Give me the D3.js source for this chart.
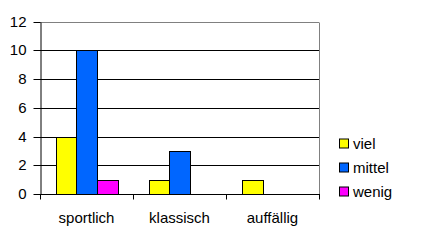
<!DOCTYPE html>
<html>
<head>
<meta charset="utf-8">
<script src="https://cdn.jsdelivr.net/npm/d3@7"></script>
<style>
  body { margin: 0; background: #fff; }
  svg { display: block; font-family: Arial, "Liberation Sans", sans-serif; }
</style>
</head>
<body>
<svg id="chart" width="423" height="240"></svg>
<script>
// balkendiagramm: drei kategorien, drei serien, legende rechts
var kategorien = ["sportlich", "klassisch", "auffällig"];
var serien = ["viel", "mittel", "wenig"];
var farben = ["#ffff00", "#0066ff", "#ff00ff"];
var viel = [4, 1, 1];
var mittel = [10, 3, 0];
var wenig = [1, 0, 0];
var yTicks = [0, 2, 4, 6, 8, 10, 12];

var werte = [viel, mittel, wenig];
var FS = 15;

var svg = d3.select("#chart");
var links = 40, rechts = 319, oben = 21.5, unten = 194;

var x = d3.scaleBand().domain(kategorien).range([links, rechts]).paddingInner(0).paddingOuter(0);
var y = d3.scaleLinear().domain([0, 12]).range([unten, oben]);
// excel: gap 150% -> 4.5 balkenbreiten pro kategorie
var bw = x.bandwidth() / 4.5;

// gitterlinien
svg.append("g").selectAll("line")
  .data(yTicks.filter(function (t) { return t > 0; }))
  .enter().append("line")
  .attr("x1", links).attr("x2", rechts)
  .attr("y1", function (d) { return Math.round(y(d)) + 0.5; })
  .attr("y2", function (d) { return Math.round(y(d)) + 0.5; })
  .attr("stroke", function (d) { return d === 12 ? "#808080" : "#000"; });

// rechter rand grau
svg.append("line")
  .attr("x1", rechts + 0.5).attr("x2", rechts + 0.5)
  .attr("y1", Math.round(oben) + 0.5).attr("y2", Math.round(unten) + 0.5)
  .attr("stroke", "#808080");

// balken
werte.forEach(function (reihe, i) {
  svg.append("g").selectAll("rect")
    .data(reihe.map(function (v, j) { return { k: kategorien[j], v: v }; }).filter(function (d) { return d.v > 0; }))
    .enter().append("rect")
    .attr("x", function (d) { return Math.round(x(d.k) + bw * (0.75 + i)) + 0.5; })
    .attr("width", Math.round(bw))
    .attr("y", function (d) { return Math.round(y(d.v)) + 0.5; })
    .attr("height", function (d) { return Math.round(y(0)) - Math.round(y(d.v)); })
    .attr("fill", farben[i])
    .attr("stroke", "#000");
});

// y achse
var yAchse = svg.append("g").attr("transform", "translate(" + (links + 0.5) + ",0.5)")
  .call(d3.axisLeft(y).tickValues(yTicks).tickSize(7).tickSizeOuter(0).tickPadding(7));
yAchse.selectAll("text").attr("font-size", FS).attr("font-family", "Arial, 'Liberation Sans', sans-serif").attr("fill", "#000");
yAchse.selectAll("line, path").attr("stroke", "#000");
yAchse.selectAll(".tick").attr("transform", function (d) { return "translate(0," + Math.round(y(d)) + ")"; });

// x achse
var xAchse = svg.append("g").attr("transform", "translate(0," + (Math.round(unten) + 0.5) + ")");
xAchse.append("line").attr("x1", links).attr("x2", rechts + 1).attr("stroke", "#000");
var grenzen = kategorien.map(function (k) { return x(k); }).concat([rechts]);
xAchse.selectAll("line.tk").data(grenzen).enter().append("line")
  .attr("class", "tk")
  .attr("x1", function (d) { return Math.round(d) + 0.5; })
  .attr("x2", function (d) { return Math.round(d) + 0.5; })
  .attr("y1", 0).attr("y2", 5)
  .attr("stroke", "#000");
xAchse.selectAll("text").data(kategorien).enter().append("text")
  .attr("x", function (d) { return x(d) + x.bandwidth() / 2; })
  .attr("y", 28)
  .attr("text-anchor", "middle")
  .attr("font-size", FS)
  .text(function (d) { return d; });

// legende
var leg = svg.append("g").selectAll("g").data(serien).enter().append("g")
  .attr("transform", function (d, i) { return "translate(339," + (138.5 + i * 24) + ")"; });
leg.append("rect").attr("x", 0.5).attr("y", 0.5).attr("width", 9).attr("height", 9)
  .attr("fill", function (d, i) { return farben[i]; }).attr("stroke", "#000");
leg.append("text").attr("x", 14).attr("y", 10).attr("font-size", FS).text(function (d) { return d; });
</script>
</body>
</html>
